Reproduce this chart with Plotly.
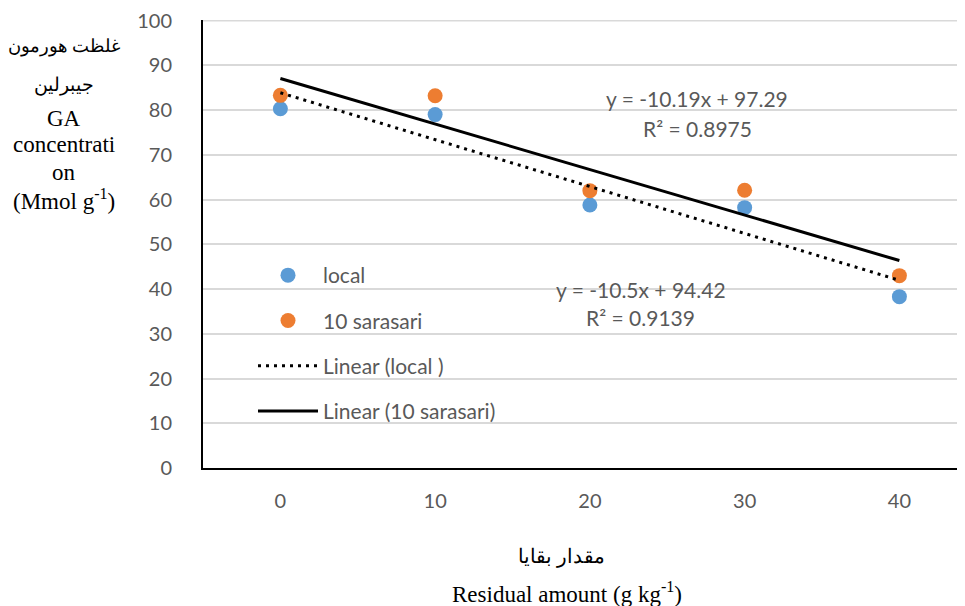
import numpy as np
import plotly.graph_objects as go

categories = ["0", "10", "20", "30", "40"]
x_idx = [1, 2, 3, 4, 5]
local = [80.3, 79.0, 58.8, 58.2, 38.3]
sarasari = [83.3, 83.2, 62.0, 62.1, 43.0]
y_max = 100

eq_local = ["y = -10.5x + 94.42", "R\u00b2 = 0.9139"]
eq_sar = ["y = -10.19x + 97.29", "R\u00b2 = 0.8975"]

BLUE = "#5b9bd5"
ORANGE = "#ed7d31"
GRAY = "#595959"
GRID = "#d9d9d9"
NUMFONT = "Lato"

# page offset (body margin) and plot area in window pixels
OFF = 8
FW, FH = 965 - OFF, 606 - OFF
L, T, W, H = 203 - OFF, 20 - OFF, 762, 448


def px(xp):
    return (xp - OFF - L) / W


def py(yp):
    return (T + H - (yp - OFF)) / H


x_arr = np.array(x_idx, dtype=float)
pl = np.polyfit(x_arr, np.array(local), 1)
ps = np.polyfit(x_arr, np.array(sarasari), 1)

fig = go.Figure()
fig.add_trace(go.Scatter(x=x_idx, y=local, mode="markers", name="local",
                         marker=dict(color=BLUE, size=15), legendgroup="a"))
fig.add_trace(go.Scatter(x=x_idx, y=sarasari, mode="markers", name="10 sarasari",
                         marker=dict(color=ORANGE, size=15), legendgroup="b"))
fig.add_trace(go.Scatter(x=[x_idx[0], x_idx[-1]], y=list(np.polyval(pl, [x_idx[0], x_idx[-1]])),
                         mode="lines", name="Linear (local )",
                         line=dict(color="black", width=3, dash="3px,5px"), legendgroup="c"))
fig.add_trace(go.Scatter(x=[x_idx[0], x_idx[-1]], y=list(np.polyval(ps, [x_idx[0], x_idx[-1]])),
                         mode="lines", name="Linear (10 sarasari)",
                         line=dict(color="black", width=3), legendgroup="d"))

ann = []
eqfont = dict(family=NUMFONT, size=21, color=GRAY)
for txt, xx, yy in [(eq_sar[0], 697, 98), (eq_sar[1], 697, 128),
                    (eq_local[0], 641, 289), (eq_local[1], 640, 317)]:
    ann.append(dict(x=px(xx), y=py(yy), xref="paper", yref="paper", text=txt,
                    showarrow=False, font=eqfont, xanchor="center", yanchor="middle"))

ylines = ["غلظت هورمون", "جیبرلین", "GA", "concentrati", "on", "(Mmol g<sup>-1</sup>)"]
ysizes = [17.5, 19, 23, 23, 23, 23]
ypos = [47, 85, 118, 145, 172, 199]
for t, s, yp in zip(ylines, ysizes, ypos):
    ann.append(dict(x=px(64), y=py(yp), xref="paper", yref="paper", text=t, showarrow=False,
                    font=dict(family="Liberation Serif", size=s, color="black"),
                    xanchor="center", yanchor="middle"))

ann.append(dict(x=px(561), y=py(556), xref="paper", yref="paper",
                text="مقدار بقایا", showarrow=False, xanchor="center", yanchor="middle",
                font=dict(family="Liberation Serif", size=20, color="black")))
ann.append(dict(x=px(567), y=py(592), xref="paper", yref="paper",
                text="Residual amount (g kg<sup>-1</sup>)", showarrow=False,
                xanchor="center", yanchor="middle",
                font=dict(family="Liberation Serif", size=23, color="black")))

fig.update_layout(
    width=FW, height=FH,
    margin=dict(l=L, r=max(FW - L - W, 0), t=T, b=FH - T - H, autoexpand=False),
    paper_bgcolor="white", plot_bgcolor="white",
    showlegend=True,
    legend=dict(x=px(253), y=py(255), xanchor="left", yanchor="top",
                font=dict(family=NUMFONT, size=21, color=GRAY),
                bgcolor="rgba(0,0,0,0)", tracegroupgap=15, itemwidth=60),
    xaxis=dict(range=[0.5, 5.424], tickmode="array", tickvals=x_idx, ticktext=categories,
               showgrid=False, zeroline=False, showline=True, linecolor="black", linewidth=2,
               tickfont=dict(family=NUMFONT, size=20, color=GRAY), ticks="",
               ticklabelstandoff=14, ticklabeloverflow="allow"),
    yaxis=dict(range=[0, y_max + 0.15], tickmode="linear", dtick=10, tick0=0,
               showgrid=True, gridcolor=GRID, gridwidth=1.5, zeroline=False,
               showline=True, linecolor="black", linewidth=2,
               tickfont=dict(family=NUMFONT, size=20, color=GRAY), ticks="",
               ticklabelstandoff=25, ticklabeloverflow="allow"),
    annotations=ann,
)
fig.add_shape(type="line", xref="paper", x0=0, x1=1, yref="y", y0=y_max, y1=y_max,
              line=dict(color=GRID, width=1.5), layer="below")

fig.write_html("out.html")
